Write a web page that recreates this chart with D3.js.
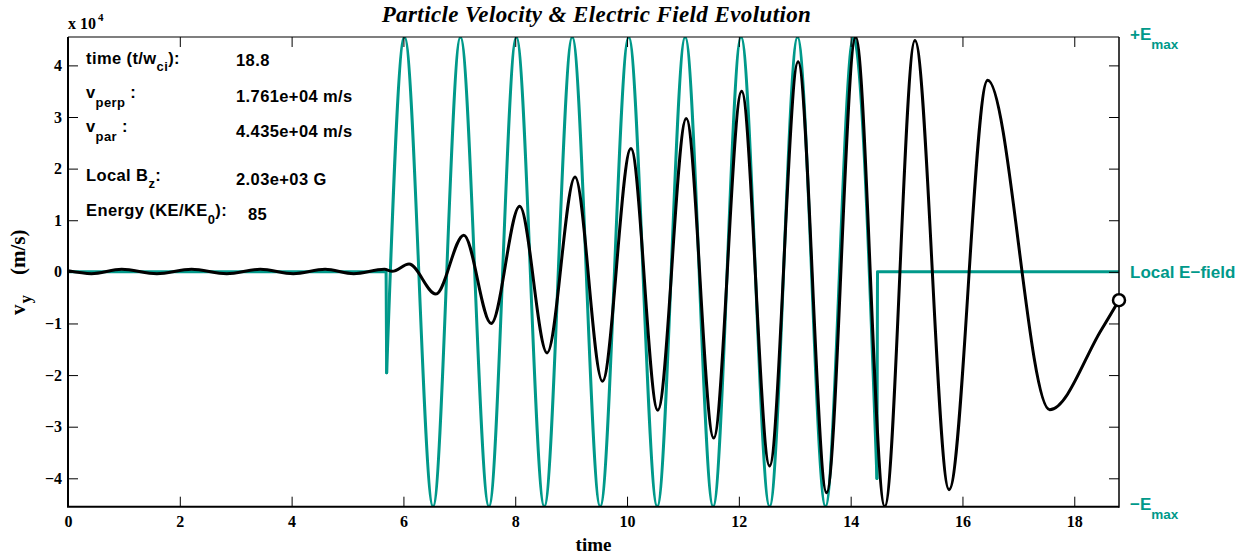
<!DOCTYPE html>
<html>
<head>
<meta charset="utf-8">
<script src="https://cdn.jsdelivr.net/npm/d3@7"></script>
<style>
  body { margin: 0; background: #fff; }
  .serif { font-family: "Liberation Serif", "Times New Roman", serif; font-weight: bold; }
  .sans { font-family: "Liberation Sans", Arial, Helvetica, sans-serif; font-weight: bold; }
</style>
</head>
<body>
<svg id="chart" width="1251" height="555"></svg>
<script>
// v_y turning points (time in 1/w_ci, velocity in units of 1e4 m/s)
const velTime = [0, 0.42, 0.96, 1.59, 2.21, 2.84, 3.44, 4.03, 4.60, 5.11, 5.66, 5.80, 6.10,
  6.58, 7.08, 7.57, 8.08, 8.57, 9.07, 9.56, 10.07, 10.55, 11.06, 11.55, 12.05, 12.55,
  13.06, 13.57, 14.09, 14.61, 15.15, 15.76, 16.45, 17.56, 18.48, 18.80];
const velValue = [0.02, -0.035, 0.05, -0.035, 0.05, -0.035, 0.05, -0.035, 0.05, -0.035, 0.05, 0.01, 0.15,
  -0.43, 0.71, -1.00, 1.27, -1.57, 1.84, -2.12, 2.39, -2.68, 2.97, -3.22, 3.50, -3.76,
  4.07, -4.28, 4.55, -4.55, 4.48, -4.22, 3.71, -2.67, -1.13, -0.55];

// local E-field, as a fraction of E_max: quiet, switch-on spike, wave, cut-off
const fieldPreTime = [0, 5.69, 5.70];
const fieldPreValue = [0, 0, -0.43];
const fieldWaveTime = [5.70, 6.02, 6.53, 7.02, 7.53, 8.02, 8.52, 9.02, 9.52, 10.03, 10.54,
  11.04, 11.54, 12.04, 12.55, 13.05, 13.55, 14.05, 14.47];
const fieldWaveValue = [-0.43, 1, -1, 1, -1, 1, -1, 1, -1, 1, -1, 1, -1, 1, -1, 1, -1, 1, -0.88];
const fieldPostTime = [14.47, 14.48, 18.80];
const fieldPostValue = [-0.88, 0, 0];

const xTicks = [0, 2, 4, 6, 8, 10, 12, 14, 16, 18];
const yTicks = [-4, -3, -2, -1, 0, 1, 2, 3, 4];

const tMax = 18.8;
const vLim = 4.55;

const svg = d3.select("#chart");
const m = { left: 68, right: 1119, top: 37, bottom: 506.7 };
const teal = "#00998a";

const x = d3.scaleLinear().domain([0, tMax]).range([m.left, m.right]);
const y = d3.scaleLinear().domain([-vLim, vLim]).range([m.bottom, m.top]);
const yE = d3.scaleLinear().domain([-1, 1]).range([m.bottom, m.top]);

svg.append("defs").append("clipPath").attr("id", "plotClip")
  .append("rect").attr("x", m.left).attr("y", m.top)
  .attr("width", m.right - m.left).attr("height", m.bottom - m.top);

const zip = (a, b) => a.map((d, i) => [d, b[i]]);

const plot = svg.append("g").attr("clip-path", "url(#plotClip)");

const fieldLinear = d3.line().x(d => x(d[0])).y(d => yE(d[1]));
const fieldSmooth = d3.line().x(d => x(d[0])).y(d => yE(d[1])).curve(d3.curveMonotoneX);

const fieldStyle = sel => sel.attr("fill", "none").attr("stroke", teal)
  .attr("stroke-width", 3).attr("stroke-linejoin", "round").attr("stroke-linecap", "round");

plot.append("path").datum(zip(fieldPreTime, fieldPreValue)).attr("d", fieldLinear).call(fieldStyle);
plot.append("path").datum(zip(fieldWaveTime, fieldWaveValue)).attr("d", fieldSmooth).call(fieldStyle);
plot.append("path").datum(zip(fieldPostTime, fieldPostValue)).attr("d", fieldLinear).call(fieldStyle);

const velLine = d3.line().x(d => x(d[0])).y(d => y(d[1])).curve(d3.curveMonotoneX);
plot.append("path").datum(zip(velTime, velValue)).attr("d", velLine)
  .attr("fill", "none").attr("stroke", "#000").attr("stroke-width", 3)
  .attr("stroke-linejoin", "round");

// axes with inward ticks
const tickStyle = g => {
  g.select(".domain").remove();
  g.selectAll(".tick line").attr("stroke", "#000").attr("stroke-width", 1);
};

svg.append("g").attr("transform", `translate(0,${m.bottom})`)
  .call(d3.axisBottom(x).tickValues(xTicks).tickSizeInner(-10).tickSizeOuter(0).tickPadding(9))
  .call(tickStyle)
  .call(g => g.selectAll("text").attr("class", "serif").attr("font-size", 16).attr("fill", "#000"));

svg.append("g").attr("transform", `translate(0,${m.top})`)
  .call(d3.axisTop(x).tickValues(xTicks).tickSizeInner(-10).tickSizeOuter(0).tickFormat(""))
  .call(tickStyle);

svg.append("g").attr("transform", `translate(${m.left},0)`)
  .call(d3.axisLeft(y).tickValues(yTicks).tickSizeInner(-10).tickSizeOuter(0).tickPadding(6)
    .tickFormat(d => d < 0 ? "\u2212" + Math.abs(d) : d))
  .call(tickStyle)
  .call(g => g.selectAll("text").attr("class", "serif").attr("font-size", 16).attr("fill", "#000"));

svg.append("g").attr("transform", `translate(${m.right},0)`)
  .call(d3.axisRight(y).tickValues(yTicks).tickSizeInner(-10).tickSizeOuter(0).tickFormat(""))
  .call(tickStyle);

// frame
svg.append("line").attr("x1", m.left).attr("x2", m.left).attr("y1", m.top).attr("y2", m.bottom)
  .attr("stroke", "#000").attr("stroke-width", 2);
svg.append("line").attr("x1", m.left - 1).attr("x2", m.right).attr("y1", m.bottom).attr("y2", m.bottom)
  .attr("stroke", "#000").attr("stroke-width", 2);
svg.append("line").attr("x1", m.left).attr("x2", m.right).attr("y1", m.top).attr("y2", m.top)
  .attr("stroke", "#000").attr("stroke-width", 1.2);
svg.append("line").attr("x1", m.right).attr("x2", m.right).attr("y1", m.top).attr("y2", m.bottom + 1)
  .attr("stroke", "#000").attr("stroke-width", 1.5);

// end-of-trajectory marker
const last = velTime.length - 1;
svg.append("circle").attr("cx", x(velTime[last])).attr("cy", y(velValue[last])).attr("r", 6)
  .attr("fill", "#fff").attr("stroke", "#000").attr("stroke-width", 2.5);

// titles
svg.append("text").attr("class", "serif").attr("x", (m.left + m.right) / 2 + 3).attr("y", 22)
  .attr("text-anchor", "middle").attr("font-size", 23).attr("font-style", "italic")
  .attr("letter-spacing", 0.4)
  .text("Particle Velocity & Electric Field Evolution");

svg.append("text").attr("class", "serif").attr("x", (m.left + m.right) / 2).attr("y", 551)
  .attr("text-anchor", "middle").attr("font-size", 19).text("time");

const yl = svg.append("text").attr("class", "serif").attr("font-size", 21)
  .attr("transform", "translate(25,315) rotate(-90)")
  .attr("text-anchor", "start");
yl.append("tspan").text("v");
yl.append("tspan").attr("font-size", 17).attr("dy", 6).attr("dx", 1).text("y");
yl.append("tspan").attr("dy", -6).attr("dx", 20).text("(m/s)");

const ex = svg.append("text").attr("class", "serif").attr("x", m.left).attr("y", 29).attr("font-size", 16);
ex.append("tspan").text("x 10");
ex.append("tspan").attr("font-size", 11).attr("dy", -8).attr("dx", 2).text("4");

// right-hand E-field labels
const eLabel = (yPos, main, sub) => {
  const t = svg.append("text").attr("class", "sans").attr("fill", teal)
    .attr("x", m.right + 11).attr("y", yPos).attr("font-size", 17);
  t.append("tspan").text(main);
  if (sub) t.append("tspan").attr("font-size", 13.5).attr("dy", 9).text(sub);
};
eLabel(yE(1) + 3, "+E", "max");
eLabel(yE(0) + 6.5, "Local E\u2212field");
eLabel(yE(-1) + 3.5, "\u2212E", "max");

// particle state read-out
const info = svg.append("g").attr("class", "sans").attr("font-size", 16.5).attr("letter-spacing", 0.4);
const label = (yPos, parts) => {
  const t = info.append("text").attr("x", 86).attr("y", yPos);
  let shift = 0;
  parts.forEach(p => {
    const ts = t.append("tspan").text(p.s);
    const target = p.sub ? p.sub : 0;
    if (target !== shift) { ts.attr("dy", target - shift); shift = target; }
    if (p.sub) ts.attr("font-size", 13);
  });
};
const value = (xPos, yPos, s) => info.append("text").attr("x", xPos).attr("y", yPos).text(s);

label(63.5, [{ s: "time (t/w" }, { s: "ci", sub: 7 }, { s: "):" }]);
value(236, 66, "18.8");
label(98, [{ s: "v" }, { s: "perp", sub: 9 }, { s: " :" }]);
value(236, 101.5, "1.761e+04 m/s");
label(131.5, [{ s: "v" }, { s: "par", sub: 9 }, { s: " :" }]);
value(236, 137, "4.435e+04 m/s");
label(181, [{ s: "Local B" }, { s: "z", sub: 7 }, { s: ":" }]);
value(236, 184.5, "2.03e+03 G");
label(216, [{ s: "Energy (KE/KE" }, { s: "0", sub: 8 }, { s: "):" }]);
value(248, 220, "85");
</script>
</body>
</html>
